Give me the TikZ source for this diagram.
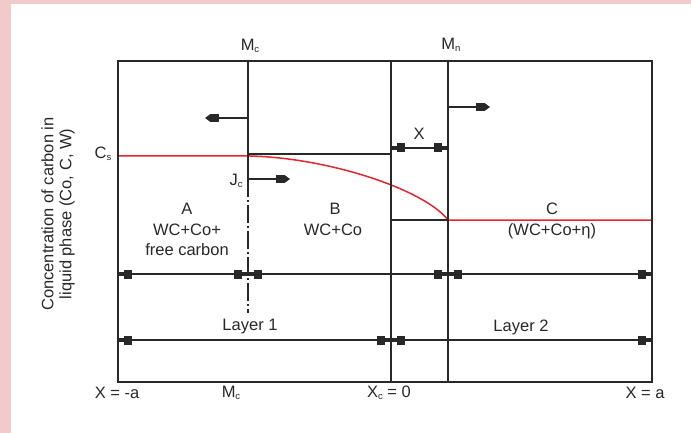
\documentclass[tikz,border=0pt]{standalone}
\usepackage{fontspec}
\setmainfont{Liberation Sans}
\usetikzlibrary{arrows.meta}
\definecolor{pinkbg}{RGB}{243,202,204}
\definecolor{curvered}{RGB}{225,38,48}
\definecolor{ink}{RGB}{40,40,40}
\newcommand{\lsub}[1]{\raisebox{-2.5pt}{\fontsize{9.5}{9.5}\selectfont #1}}
\begin{document}
\begin{tikzpicture}[x=1pt,y=-1pt,
  line/.style={draw=ink,line width=1.4pt},
  redline/.style={draw=curvered,line width=1.5pt},
  dashdot/.style={draw=ink,line width=1.4pt,dash pattern=on 18pt off 3pt on 2pt off 3pt},
  dimline/.style={draw=ink,line width=1.4pt,
    {Rectangle[length=6pt,width=3.5pt]Square[length=8pt,width=9pt]}-{Square[length=8pt,width=9pt]Rectangle[length=6pt,width=3.5pt]}},
  arrowline/.style={draw=ink,line width=1.4pt,-{Square[length=9pt,width=8pt]Triangle[length=5pt,width=7pt]}},
  lbl/.style={text=ink,font=\fontsize{16.5}{18}\selectfont,inner sep=0pt}]
\useasboundingbox (0,0) rectangle (691,433);
\fill[pinkbg] (0,0) rectangle (11,433);
\fill[pinkbg] (0,0) rectangle (691,4);

% key points
\coordinate (TL) at (118,61);
\coordinate (BR) at (652,382);
\coordinate (mcT) at (248,61);
\coordinate (mcS) at (248,154);
\coordinate (mcJ) at (248,179);
\coordinate (mcB) at (248,313);
\coordinate (x0T) at (391,61);
\coordinate (x0B) at (391,382);
\coordinate (x0S) at (391,154);
\coordinate (x0C) at (391,220);
\coordinate (mnT) at (448,61);
\coordinate (mnB) at (448,382);
\coordinate (mnC) at (448,220);
\coordinate (csL) at (118,156);
\coordinate (csM) at (250,156);
\coordinate (cR) at (652,220);

% red concentration profile
\draw[redline] (csL) -- (csM) .. controls (330,158) and (425,190) .. (mnC) -- (cR);

% frame and verticals
\draw[line] (TL) rectangle (BR);
\draw[line] (mcT) -- (mcJ);
\draw[dashdot] (mcJ) -- (mcB);
\draw[line] (x0T) -- (x0B);
\draw[line] (mnT) -- (mnB);
\draw[line] (mcS) -- (x0S);
\draw[line] (x0C) -- (mnC);

% movement arrows
\coordinate (mcA) at (248,118);
\coordinate (mcAe) at (205,118);
\coordinate (jcAe) at (290,179);
\coordinate (mnA) at (448,107);
\coordinate (mnAe) at (490,107);
\draw[arrowline] (mcA) -- (mcAe);
\draw[arrowline] (mcJ) -- (jcAe);
\draw[arrowline] (mnA) -- (mnAe);

% dimension lines
\coordinate (xdL) at (391,148);
\coordinate (xdR) at (448,148);
\draw[dimline] (xdL) -- (xdR);
\coordinate (r1a) at (118,274);
\coordinate (r1b) at (248,274);
\coordinate (r1c) at (448,274);
\coordinate (r1d) at (652,274);
\draw[dimline] (r1a) -- (r1b);
\draw[dimline] (r1b) -- (r1c);
\draw[dimline] (r1c) -- (r1d);
\coordinate (r2a) at (118,340);
\coordinate (r2b) at (391,340);
\coordinate (r2c) at (652,340);
\draw[dimline] (r2a) -- (r2b);
\draw[dimline] (r2b) -- (r2c);

% labels
\node[lbl] (lMcT) at (250,46) {M\lsub{c}};
\node[lbl] (lMnT) at (451,45) {M\lsub{n}};
\node[lbl] (lCs) at (103,154) {C\lsub{s}};
\node[lbl] (lJc) at (236,181) {J\lsub{c}};
\node[lbl] (lX) at (419,134) {X};
\node[lbl] (lA) at (187,209) {A};
\node[lbl] (lA2) at (187,230) {WC+Co+};
\node[lbl] (lA3) at (187,250) {free carbon};
\node[lbl] (lB) at (335,209) {B};
\node[lbl] (lB2) at (333,230) {WC+Co};
\node[lbl] (lC) at (552,209) {C};
\node[lbl] (lC2) at (552,231) {(WC+Co+η)};
\node[lbl] (lL1) at (250,327) {Layer 1};
\node[lbl] (lL2) at (521,327) {Layer 2};
\node[lbl] (lXa) at (117,393) {X = -a};
\node[lbl] (lMcB) at (231,393) {M\lsub{c}};
\node[lbl] (lXc) at (389,393) {X\lsub{c} = 0};
\node[lbl] (lXb) at (645,393) {X = a};
\node[lbl,rotate=90,align=center] (lY) at (58,214) {Concentration of carbon in\\liquid phase (Co, C, W)};
\end{tikzpicture}
\end{document}
